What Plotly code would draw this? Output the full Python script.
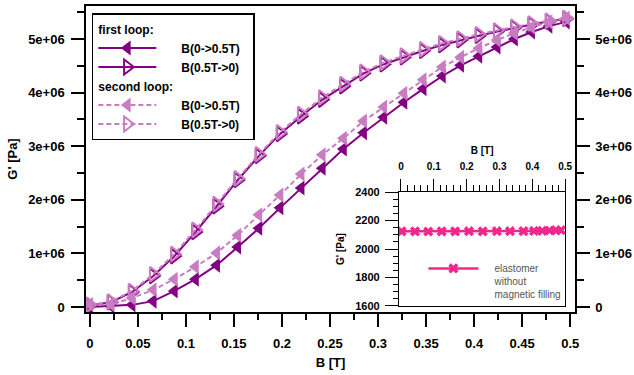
import plotly.graph_objects as go

# ---------------- data ----------------
B_T = [0.000, 0.022, 0.044, 0.066, 0.088, 0.110, 0.132, 0.154, 0.176, 0.198,
       0.220, 0.242, 0.264, 0.285, 0.306, 0.327, 0.347, 0.367, 0.386, 0.405,
       0.424, 0.442, 0.460, 0.478, 0.496]

G_first_up = [0, 20000, 40000, 110000, 300000, 520000, 780000, 1120000, 1470000, 1850000,
              2220000, 2590000, 2950000, 3250000, 3540000, 3820000, 4070000, 4310000, 4510000, 4680000,
              4850000, 5000000, 5130000, 5240000, 5320000]

G_first_down = [30000, 90000, 280000, 580000, 950000, 1400000, 1880000, 2370000, 2820000, 3230000,
                3560000, 3870000, 4120000, 4360000, 4530000, 4660000, 4780000, 4890000, 4980000, 5060000,
                5140000, 5210000, 5270000, 5330000, 5380000]

G_second_up = [50000, 50000, 170000, 320000, 520000, 750000, 1010000, 1340000, 1720000, 2090000,
               2480000, 2840000, 3150000, 3470000, 3730000, 3990000, 4240000, 4480000, 4660000, 4830000,
               4980000, 5110000, 5220000, 5320000, 5390000]

G_second_down = [40000, 100000, 300000, 610000, 990000, 1440000, 1920000, 2400000, 2850000, 3260000,
                 3600000, 3910000, 4160000, 4390000, 4560000, 4690000, 4810000, 4920000, 5010000, 5090000,
                 5160000, 5230000, 5290000, 5340000, 5390000]

B_inset = [0.002, 0.043, 0.083, 0.124, 0.165, 0.207, 0.249, 0.292, 0.332, 0.373,
           0.405, 0.430, 0.452, 0.472, 0.487]
G_inset = [2124, 2124, 2123, 2124, 2124, 2125, 2124, 2125, 2125, 2126,
           2127, 2128, 2130, 2131, 2132]

x_tickvals = [0, 0.05, 0.1, 0.15, 0.2, 0.25, 0.3, 0.35, 0.4, 0.45, 0.5]
x_ticktext = ["0", "0.05", "0.1", "0.15", "0.2", "0.25", "0.3", "0.35", "0.4", "0.45", "0.5"]
y_tickvals = [0, 1e6, 2e6, 3e6, 4e6, 5e6]
y_ticktext = ["0", "1e+06", "2e+06", "3e+06", "4e+06", "5e+06"]
inset_x_tickvals = [0, 0.1, 0.2, 0.3, 0.4, 0.5]
inset_x_ticktext = ["0", "0.1", "0.2", "0.3", "0.4", "0.5"]
inset_y_tickvals = [1600, 1800, 2000, 2200, 2400]

# ---------------- styling ----------------
DARK = "#820082"
LIGHT = "#C97CC2"
PINK = "#F0288C"
FONT = "Liberation Sans"
NB = "\u00a0"
PAD = "\u2002\u2009"
bold = dict(family=FONT, size=13, color="black", weight="bold")
bold12 = dict(family=FONT, size=12, color="black", weight="bold")

fig = go.Figure()

fig.add_trace(go.Scatter(
    x=B_T, y=G_first_up, mode="lines+markers", name=NB * 6 + "B(0->0.5T)" + PAD,
    legendgroup="first", legendgrouptitle=dict(text="first loop:", font=bold12),
    line=dict(color=DARK, width=2),
    marker=dict(symbol="triangle-left", size=13, color=DARK, line=dict(width=0))))
fig.add_trace(go.Scatter(
    x=B_T, y=G_first_down, mode="lines+markers", name=NB * 6 + "B(0.5T->0)",
    legendgroup="first",
    line=dict(color=DARK, width=2),
    marker=dict(symbol="triangle-right-open", size=13, color=DARK, line=dict(width=2, color=DARK))))
fig.add_trace(go.Scatter(
    x=B_T, y=G_second_up, mode="lines+markers", name=NB * 6 + "B(0->0.5T)",
    legendgroup="second", legendgrouptitle=dict(text="second loop:", font=bold12),
    line=dict(color=LIGHT, width=2, dash="5px,3px"),
    marker=dict(symbol="triangle-left", size=13, color=LIGHT, line=dict(width=0))))
fig.add_trace(go.Scatter(
    x=B_T, y=G_second_down, mode="lines+markers", name=NB * 6 + "B(0.5T->0)",
    legendgroup="second",
    line=dict(color=LIGHT, width=2, dash="5px,3px"),
    marker=dict(symbol="triangle-right-open", size=13, color=LIGHT, line=dict(width=2, color=LIGHT))))

# invisible copy so that the right-hand axis is drawn
fig.add_trace(go.Scatter(
    x=B_T, y=G_first_up, yaxis="y2", mode="lines", opacity=0, showlegend=False,
    hoverinfo="skip", line=dict(color=DARK, width=1)))

fig.add_trace(go.Scatter(
    x=B_inset, y=G_inset, mode="lines+markers", xaxis="x3", yaxis="y3",
    name="<br>".join(NB * 4 + s for s in ["elastomer", "without", "magnetic filling"]),
    legend="legend2",
    line=dict(color=PINK, width=2.5),
    marker=dict(symbol="x", size=9, color=PINK, line=dict(width=0))))

Y_RANGE = [-93000, 5616000]
axis_common = dict(showline=True, linecolor="black", linewidth=1.5, ticks="outside",
                   tickcolor="black", tickwidth=1.5, showgrid=False, zeroline=False,
                   tickfont=bold, automargin=False)
inset_title_font = dict(family=FONT, size=10, color="black", weight="bold")

fig.update_layout(
    template="none",
    width=634, height=375, autosize=False,
    margin=dict(l=86, r=59, t=6, b=63),
    plot_bgcolor="white", paper_bgcolor="white",
    font=dict(family=FONT, color="black"),
    showlegend=True,
    xaxis=dict(domain=[0, 1], range=[-0.004, 0.505], anchor="y", mirror=True,
               tickmode="array", tickvals=x_tickvals, ticktext=x_ticktext, ticklen=13,
               ticklabelstandoff=6,
               minor=dict(tick0=0, dtick=0.025, ticks="outside", ticklen=6, tickwidth=1.5, tickcolor="black"),
               title=dict(text="B [T]", font=bold, standoff=8), **axis_common),
    yaxis=dict(domain=[0, 1], range=Y_RANGE, anchor="x", mirror=True,
               tickmode="array", tickvals=y_tickvals, ticktext=y_ticktext, ticklen=13,
               ticklabelstandoff=4,
               minor=dict(tick0=0, dtick=500000, ticks="outside", ticklen=7, tickwidth=1.5, tickcolor="black"),
               title=dict(text="G' [Pa]", font=bold, standoff=8), **axis_common),
    yaxis2=dict(overlaying="y", side="right", anchor="x", range=Y_RANGE,
                tickmode="array", tickvals=y_tickvals, ticktext=y_ticktext, ticklen=13,
                ticklabelstandoff=3,
                minor=dict(tick0=0, dtick=500000, ticks="outside", ticklen=7, tickwidth=1.5, tickcolor="black"),
                **axis_common),
    xaxis3=dict(domain=[0.640, 0.980], anchor="y3", side="top", range=[-0.006, 0.5], mirror=True,
                tickmode="array", tickvals=inset_x_tickvals, ticktext=inset_x_ticktext, ticklen=12,
                ticklabelstandoff=5,
                minor=dict(tick0=0, dtick=0.02, ticks="outside", ticklen=6, tickwidth=1.2, tickcolor="black"),
                title=dict(text="B [T]", font=inset_title_font, standoff=4),
                showline=True, linecolor="black", linewidth=1.2, ticks="outside", tickcolor="black",
                tickwidth=1.2, showgrid=False, zeroline=False, automargin=False,
                tickfont=dict(family=FONT, size=10, color="black", weight="bold")),
    yaxis3=dict(domain=[0.0196, 0.392], anchor="x3", range=[1600, 2400], mirror=True,
                tickmode="array", tickvals=inset_y_tickvals, ticklen=13,
                ticklabelstandoff=3,
                minor=dict(tick0=1600, dtick=50, ticks="outside", ticklen=5, tickwidth=1.2, tickcolor="black"),
                title=dict(text="G' [Pa]", font=inset_title_font, standoff=8),
                showline=True, linecolor="black", linewidth=1.2, ticks="outside", tickcolor="black",
                tickwidth=1.2, showgrid=False, zeroline=False, automargin=False,
                tickfont=dict(family=FONT, size=11, color="black", weight="bold")),
    legend=dict(x=0.012, y=0.977, xanchor="left", yanchor="top",
                bordercolor="black", borderwidth=1.5, bgcolor="white",
                font=bold12, itemwidth=58, tracegroupgap=0, traceorder="grouped",
                grouptitlefont=bold12),
    legend2=dict(x=0.69, y=0.185, xanchor="left", yanchor="top",
                 bgcolor="rgba(0,0,0,0)", borderwidth=0, valign="top", itemwidth=50,
                 font=dict(family=FONT, size=10, color="#555555")),
)

fig.write_html("out.html", config={"displayModeBar": False},
               post_script="document.body.style.margin='0';")
